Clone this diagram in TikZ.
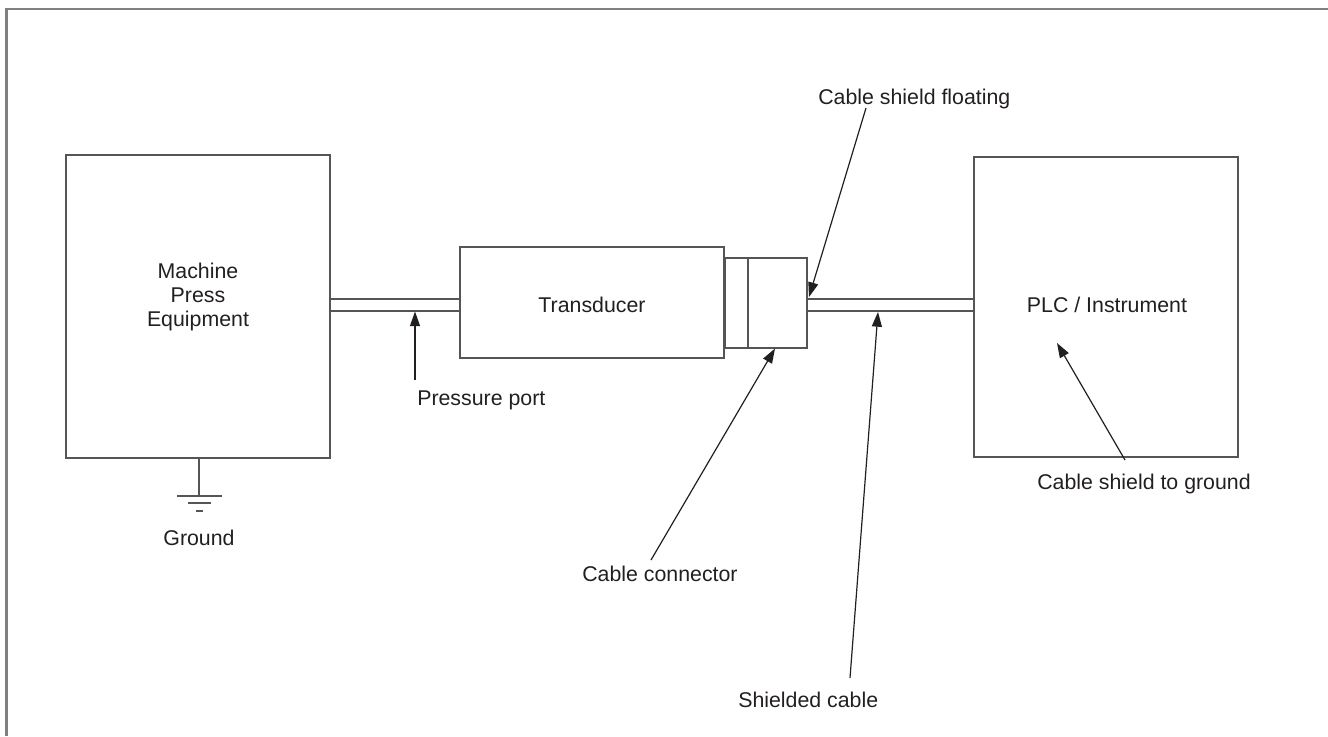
\documentclass[tikz,border=0pt]{standalone}
\usepackage{fontspec}
\setmainfont{Liberation Sans}
\usetikzlibrary{arrows.meta}
\definecolor{boxline}{HTML}{555555}
\definecolor{txt}{HTML}{231F20}
\begin{document}
\begin{tikzpicture}[x=0.75pt,y=-0.75pt,
  box/.style={draw=boxline,line width=1.3pt,fill=white,inner sep=0pt},
  pipe/.style={draw=boxline,line width=1.3pt},
  lbl/.style={text=txt,font=\fontsize{16}{18}\selectfont,inner sep=0pt},
  pointer/.style={draw=txt,line width=0.9pt,-{Triangle[length=11pt,width=7.5pt]}},
  frame/.style={draw=gray,line width=2.2pt}]
\useasboundingbox (0,0) rectangle (1328,736);
% frame (top and left edges)
\draw[frame] (6.5,736) -- (6.5,9) -- (1328,9);
% boxes
\node[box,minimum width=198pt,minimum height=227.25pt] (machine) at (198,306.5) {};
\node[lbl,align=center] (machinetxt) at (198,297) {Machine\\Press\\Equipment};
\node[box,minimum width=198pt,minimum height=83.25pt] (trans) at (592,302.5) {};
\node[lbl] (transtxt) at (592,305) {Transducer};
\node[box,minimum width=17.25pt,minimum height=67.5pt] (conA) at (736.5,303) {};
\node[box,minimum width=44.25pt,minimum height=67.5pt] (conB) at (777.5,303) {};
\node[box,minimum width=198pt,minimum height=225pt] (plc) at (1106,307) {};
\node[lbl] (plctxt) at (1107,305) {PLC / Instrument};
% pressure port pipe
\draw[pipe] (machine.east |- 0,299) -- (trans.west |- 0,299);
\draw[pipe] (machine.east |- 0,311) -- (trans.west |- 0,311);
% cable
\draw[pipe] (conB.east |- 0,299) -- (plc.west |- 0,299);
\draw[pipe] (conB.east |- 0,311) -- (plc.west |- 0,311);
% ground
\coordinate (gtop) at (machine.south);
\coordinate (gbar) at (199,496);
\draw[pipe] (gtop -| gbar) -- (gbar);
\draw[pipe] (177,496) -- (222,496);
\draw[pipe] (188,503) -- (211,503);
\draw[pipe] (196,511) -- (203,511);
\node[lbl] (ground) at (199,538) {Ground};
% labels
\node[lbl,anchor=west] (lblport) at (417,400) {Pressure port};
\node[lbl,anchor=west] (lblconn) at (582,574) {Cable connector};
\node[lbl,anchor=west] (lblshield) at (738,700) {Shielded cable};
\node[lbl,anchor=west] (lblfloat) at (818,99) {Cable shield floating};
\node[lbl,anchor=east] (lblgnd) at (1251,484) {Cable shield to ground};
% pointer ends
\coordinate (tport) at (415,311.5);
\coordinate (sport) at (415,380);
\coordinate (tconn) at (775,348.5);
\coordinate (sconn) at (651,560);
\coordinate (tshield) at (878,312);
\coordinate (sshield) at (850,678);
\coordinate (tfloat) at (809,297);
\coordinate (sfloat) at (866,108);
\coordinate (tgnd) at (1057,343);
\coordinate (sgnd) at (1125,460);
\draw[pointer] (sport) -- (tport);
\draw[pointer] (sconn) -- (tconn);
\draw[pointer] (sshield) -- (tshield);
\draw[pointer] (sfloat) -- (tfloat);
\draw[pointer] (sgnd) -- (tgnd);
\end{tikzpicture}
\end{document}
